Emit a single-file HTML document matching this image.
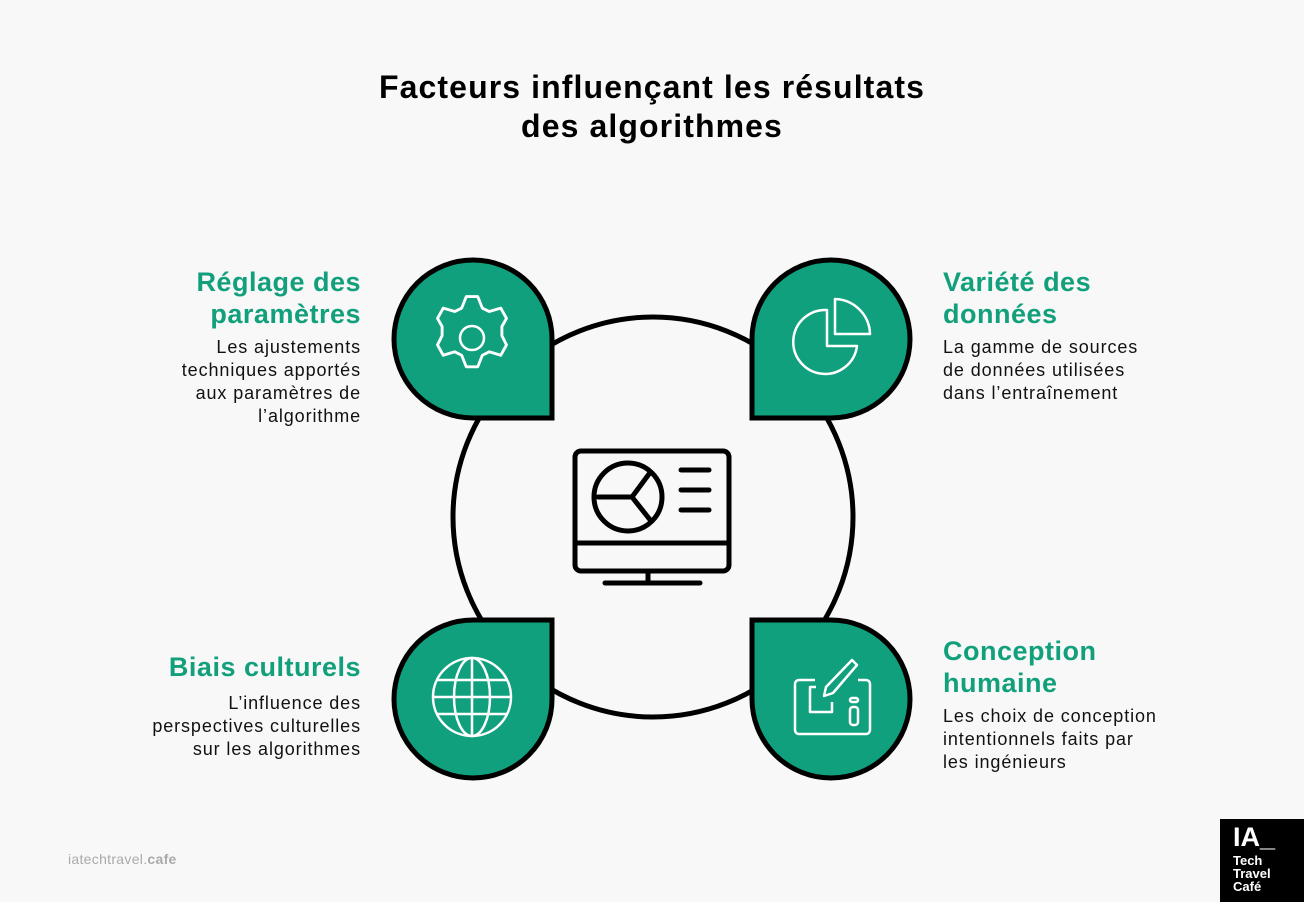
<!DOCTYPE html>
<html><head><meta charset="utf-8"><style>
body{margin:0;width:1304px;height:902px;background:#f8f8f8;position:relative;overflow:hidden;font-family:"Liberation Sans",Arial,sans-serif;}
.t{position:absolute;left:0;width:1304px;top:68px;text-align:center;font-weight:bold;font-size:32px;line-height:39px;color:#000;letter-spacing:1.1px}
.h{position:absolute;color:#12a07c;font-weight:bold;font-size:27px;line-height:32px;letter-spacing:0.5px}
.d{position:absolute;color:#111;font-size:18px;line-height:23px;letter-spacing:0.9px}
.r{text-align:right;right:943px}
.l{left:943px}
</style></head><body>
<div class="t">Facteurs influençant les résultats<br>des algorithmes</div>
<svg width="1304" height="902" style="position:absolute;left:0;top:0">
<circle cx="653" cy="517" r="200" fill="none" stroke="#000" stroke-width="5"/>
<g fill="#10a07d" stroke="#000" stroke-width="5">
<path d="M552,418 L473,418 A79,79 0 1 1 552,339 Z"/>
<path d="M752,418 L831,418 A79,79 0 1 0 752,339 Z"/>
<path d="M552,620 L473,620 A79,79 0 1 0 552,699 Z"/>
<path d="M752,620 L831,620 A79,79 0 1 1 752,699 Z"/>
</g>
<g fill="none" stroke="#fff" stroke-width="2.5" stroke-linejoin="round">
<g transform="translate(472,338) scale(1.15) translate(-472,-338)">
<path d="M467,302 h10 l4,10 l6,3 l10,-3 l5,9 l-4,7 v8 l4,8 l-5,9 l-10,-3 l-6,3 l-4,10 h-10 l-4,-10 l-6,-3 l-10,3 l-5,-9 l4,-8 v-8 l-4,-7 l5,-9 l10,3 l6,-3 z"/>
</g>
<circle cx="472" cy="338" r="12"/>
<path d="M827,310 A32,32 0 1 0 857,346 L827,346 Z"/>
<path d="M835,299 A36,36 0 0 1 870,334 L835,334 Z"/>
<circle cx="472" cy="697" r="39"/>
<ellipse cx="472" cy="697" rx="18" ry="39"/>
<line x1="472" y1="658" x2="472" y2="736"/>
<line x1="433" y1="697" x2="511" y2="697"/>
<line x1="437" y1="680" x2="507" y2="680"/>
<line x1="437" y1="714" x2="507" y2="714"/>
<path d="M815,680 h-16 a4,4 0 0 0 -4,4 v46 a4,4 0 0 0 4,4 h67 a4,4 0 0 0 4,-4 v-46 a4,4 0 0 0 -4,-4 h-8"/>
<path d="M816,687 h-6 v25 h22 v-10"/>
<path d="M852,660 l5,5 l-24,28 l-9,3 l2,-9 z"/>
<rect x="850" y="707" width="8" height="18" rx="3"/>
<rect x="850" y="698" width="8" height="4" rx="2"/>
</g>
<g fill="none" stroke="#000" stroke-width="5" stroke-linecap="round" stroke-linejoin="round">
<rect x="575" y="451" width="154" height="120" rx="6"/>
<line x1="575" y1="543" x2="729" y2="543"/>
<line x1="648" y1="571" x2="648" y2="583"/>
<line x1="605" y1="583" x2="700" y2="583"/>
<circle cx="628" cy="497" r="34"/>
<path d="M598,497 H632 L649,474 M632,497 L651,521"/>
<line x1="681" y1="470" x2="709" y2="470"/>
<line x1="681" y1="490" x2="709" y2="490"/>
<line x1="681" y1="510" x2="709" y2="510"/>
</g>
</svg>
<div class="h r" style="top:266px">Réglage des<br>paramètres</div>
<div class="d r" style="top:336px">Les ajustements<br>techniques apportés<br>aux paramètres de<br>l’algorithme</div>
<div class="h r" style="top:651px">Biais culturels</div>
<div class="d r" style="top:692px">L’influence des<br>perspectives culturelles<br>sur les algorithmes</div>
<div class="h l" style="top:266px">Variété des<br>données</div>
<div class="d l" style="top:336px">La gamme de sources<br>de données utilisées<br>dans l’entraînement</div>
<div class="h l" style="top:635px">Conception<br>humaine</div>
<div class="d l" style="top:705px">Les choix de conception<br>intentionnels faits par<br>les ingénieurs</div>
<div style="position:absolute;left:68px;top:851px;font-size:14px;color:#aaa;letter-spacing:0.3px">iatechtravel.<b>cafe</b></div>
<div style="position:absolute;left:1220px;top:819px;width:84px;height:83px;background:#000;color:#fff;font-weight:bold">
<div style="position:absolute;left:13px;top:4px;font-size:27px;line-height:28px">IA_</div>
<div style="position:absolute;left:13px;top:35px;font-size:13px;line-height:13px">Tech<br>Travel<br>Café</div>
</div>
</body></html>
